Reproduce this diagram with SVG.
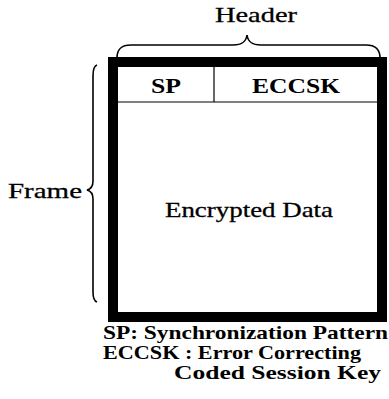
<svg xmlns="http://www.w3.org/2000/svg" width="389" height="399" viewBox="0 0 389 399">
<style>
.t{font-family:"Liberation Serif","Times New Roman",serif;font-size:22px;fill:#000;stroke:#000;stroke-width:0.3}
.h{font-family:"Liberation Serif","Times New Roman",serif;font-size:22px;font-weight:bold;fill:#000}
.b{font-family:"Liberation Serif","Times New Roman",serif;font-size:19px;font-weight:bold;fill:#000}
.br{fill:none;stroke:#000;stroke-width:1.6}
.ln{fill:none;stroke:#000;stroke-width:1.2}
</style>
<rect width="389" height="399" fill="#fff"/>
<g id="frame">
<rect x="113" y="62" width="269" height="255" fill="#fff" stroke="#000" stroke-width="10"/>
<text class="t" x="165" y="217" textLength="168" lengthAdjust="spacingAndGlyphs">Encrypted Data</text>
</g>
<g id="header-row">
<line class="ln" x1="118" y1="102" x2="377" y2="102"/>
<line class="ln" x1="214" y1="66" x2="214" y2="102"/>
</g>
<g id="sp">
<text class="h" x="151" y="93" textLength="30" lengthAdjust="spacingAndGlyphs">SP</text>
</g>
<g id="eccsk">
<text class="h" x="252" y="93" textLength="88" lengthAdjust="spacingAndGlyphs">ECCSK</text>
</g>
<g id="header-label">
<path class="br" d="M117,58 C117,49 121,45 131,45 L233,45 C242,45 246,42 247,35 C248,42 252,45 261,45 L366,45 C375,45 380,49 380,58"/>
<text class="t" x="215" y="22" textLength="82" lengthAdjust="spacingAndGlyphs">Header</text>
</g>
<g id="frame-label">
<path class="br" d="M97,65 C94,66 93,70 93,76 L93,181 C93,186 91,189 87,190 C91,191 93,194 93,199 L93,292 C93,298 94,301 97,302"/>
<text class="t" x="8" y="198" textLength="74" lengthAdjust="spacingAndGlyphs">Frame</text>
</g>
<g id="legend">
<text class="b" x="103" y="339" textLength="285" lengthAdjust="spacingAndGlyphs">SP: Synchronization Pattern</text>
<text class="b" x="103" y="359" textLength="258" lengthAdjust="spacingAndGlyphs">ECCSK : Error Correcting</text>
<text class="b" x="174" y="379" textLength="207" lengthAdjust="spacingAndGlyphs">Coded Session Key</text>
</g>
</svg>
